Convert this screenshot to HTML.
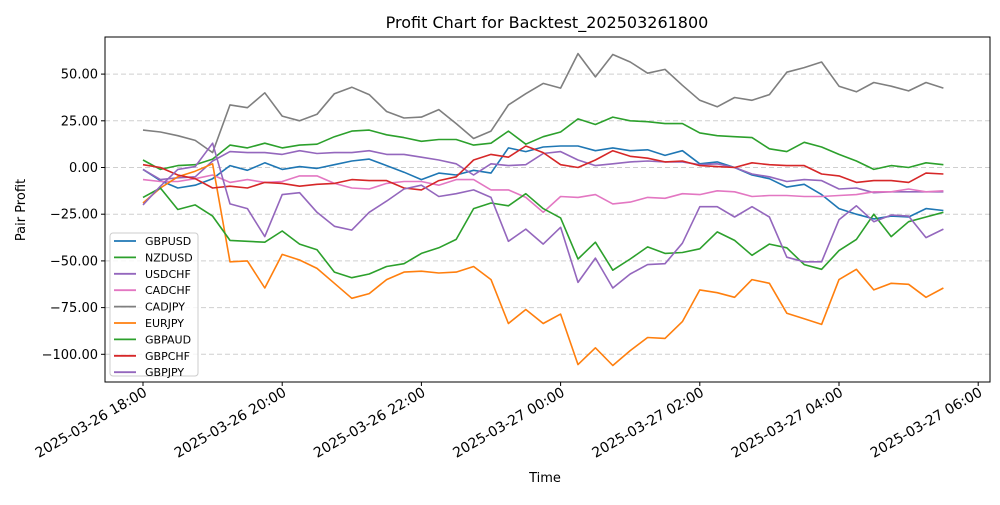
<!DOCTYPE html>
<html><head><meta charset="utf-8"><style>
body{margin:0;background:#fff;font-family:"Liberation Sans","DejaVu Sans",sans-serif}
</style></head><body>
<svg id="chart" width="1000" height="500" xmlns="http://www.w3.org/2000/svg" font-family="'DejaVu Sans','Liberation Sans',sans-serif">
<rect width="1000" height="500" fill="#fff"/>
<text x="547" y="28" font-size="16" text-anchor="middle">Profit Chart for Backtest_202503261800</text>
<text x="545" y="482" font-size="13" text-anchor="middle">Time</text>
<text transform="translate(25,210) rotate(-90)" font-size="13" text-anchor="middle">Pair Profit</text>
<g id="grid"></g><g id="series"></g><g id="axes"></g><g id="legend"></g>
</svg>
<script>
const seriesNames=["GBPUSD","NZDUSD","USDCHF","CADCHF","CADJPY","EURJPY","GBPAUD","GBPCHF","GBPJPY"];
const seriesColors=["#1f77b4","#2ca02c","#9467bd","#e377c2","#7f7f7f","#ff7f0e","#2ca02c","#d62728","#9467bd"];
const yTicks=[50,25,0,-25,-50,-75,-100];
const xTickHours=[0,2,4,6,8,10,12];
const xTickLabels=["2025-03-26 18:00","2025-03-26 20:00","2025-03-26 22:00","2025-03-27 00:00","2025-03-27 02:00","2025-03-27 04:00","2025-03-27 06:00"];
const stepMinutes=15;
const GBPUSD=[-1,-7,-11,-9.5,-6,1,-1.5,2.5,-1,0.5,-0.5,1.5,3.5,4.5,1,-2.5,-6.5,-3,-4,-1.5,-3,10.5,8.5,11,11.5,11.5,9,10.5,9,9.5,6.5,9,2,3,0,-4,-6,-10.5,-9,-14.5,-22,-25,-27.5,-26,-26.5,-22,-23];
const NZDUSD=[4,-1,1,1.5,4.5,12,10.5,13,10.5,12,12.5,16.5,19.5,20,17.5,16,14,15,15,12,13,19.5,12.5,16.5,19,26,23,27,25,24.5,23.5,23.5,18.5,17,16.5,16,10,8.5,13.5,11,7,3.5,-1,1,0,2.5,1.5];
const USDCHF=[-1,-6.5,-5.5,-5,3.5,8.5,8,8,7,9,7.5,8,8,9,7,7,5.5,4,2,-4,2,1,1.5,7.5,8.5,4,1,2,3,3.5,3,3,1.5,2,0,-3.5,-5,-7.5,-6.5,-7,-11.5,-11,-13.5,-13,-13,-13,-13];
const CADCHF=[-6.5,-7.5,-7.5,-6,-4,-8,-6.5,-8,-7.5,-4.5,-4.5,-8.5,-11,-11.5,-8.5,-7.5,-7.5,-9.5,-6.5,-6.5,-12,-12,-16,-24,-15.5,-16,-14.5,-19.5,-18.5,-16,-16.5,-14,-14.5,-12.5,-13,-15.5,-15,-15,-15.5,-15.5,-15,-14.5,-13,-13,-11.5,-13,-12.5];
const CADJPY=[20,19,17,14.5,8,33.5,32,40,27.5,25,28.5,39.5,43,39,30,26.5,27,31,23.5,15.5,19.5,33.5,39.5,45,42.5,61,48.5,60.5,56.5,50.5,52.5,44,36,32.5,37.5,36,39,51,53.5,56.5,43.5,40.5,45.5,43.5,41,45.5,42.5];
const EURJPY=[-19,-11,-5,-2,2,-50.5,-50,-64.5,-46.5,-49.5,-54,-62,-70,-67.5,-60,-56,-55.5,-56.5,-56,-53,-60,-83.5,-76,-83.5,-78.5,-105.5,-96.5,-106,-98,-91,-91.5,-82.5,-65.5,-67,-69.5,-60,-62,-78,-81,-84,-60,-54.5,-65.5,-62,-62.5,-69.5,-64.5];
const GBPAUD=[-16,-11,-22.5,-20,-26,-39,-39.5,-40,-34,-41,-44,-56,-59,-57,-53,-51.5,-46,-43,-38.5,-22,-19,-20.5,-14,-22,-27,-49,-40,-55,-49,-42.5,-46,-45.5,-43.5,-34.5,-39,-47,-41,-43,-52,-54.5,-44.5,-38.5,-25,-37,-29,-26.5,-24];
const GBPCHF=[1.5,0,-4,-6,-11,-10,-11,-8,-8.5,-10,-9,-8.5,-6.5,-7,-7,-11,-12,-7,-5,4,7,5.5,11.5,8,1.5,0,4,9,6,5,3,3.5,1,0.5,0,2.5,1.5,1,1,-3.5,-4.5,-8,-7,-7,-8,-3,-3.5];
const GBPJPY=[-20,-10,-1,0.5,13,-19.5,-22,-37,-14.5,-13.5,-24,-31.5,-33.5,-24,-18,-11.5,-9.5,-15.5,-14,-12,-16,-39.5,-33,-41,-32,-61.5,-48.5,-64.5,-57,-52,-51.5,-40.5,-21,-21,-26.5,-21,-26.5,-48,-50.5,-50.5,-28,-20.5,-29,-25.5,-26,-37.5,-33];
const seriesData=[GBPUSD,NZDUSD,USDCHF,CADCHF,CADJPY,EURJPY,GBPAUD,GBPCHF,GBPJPY];

const NS="http://www.w3.org/2000/svg";
const L=105,R=990,T=37,B=382;
function xScale(minutes){return 143+minutes*(69.6/60);}
function yScale(v){return 167.5-v*1.868;}
function mk(tag,attrs,parent){const e=document.createElementNS(NS,tag);for(const k in attrs)e.setAttribute(k,attrs[k]);parent.appendChild(e);return e;}
const grid=document.getElementById('grid'),axes=document.getElementById('axes'),ser=document.getElementById('series'),leg=document.getElementById('legend');
yTicks.forEach(t=>{const y=yScale(t);
 const g=mk('line',{x1:L,x2:R,y1:y,y2:y,stroke:'#cfcfcf','stroke-dasharray':'5,3','stroke-width':1},grid);
 
 
 const tk=mk('line',{x1:L-4,x2:L,y1:y,y2:y,stroke:'#000'},axes);
 
 
 const tx=mk('text',{x:L-7,y:y+4.5,'font-size':13,'text-anchor':'end'},axes);
 
 
 tx.textContent=t.toFixed(2).replace('-','\u2212');
});
xTickHours.forEach((h,i)=>{const x=xScale(h*60);
 const tk=mk('line',{x1:x,x2:x,y1:B,y2:B+4,stroke:'#000'},axes);
 
 
 const tx=mk('text',{transform:`translate(${x+5},${B+13}) rotate(-30)`,'font-size':14,'text-anchor':'end'},axes);
 
 
 tx.textContent=xTickLabels[i];
});
seriesData.forEach((d,si)=>{
 const pts=d.map((v,i)=>xScale(i*stepMinutes).toFixed(1)+','+yScale(v).toFixed(1)).join(' ');
 const p=mk('polyline',{points:pts,fill:'none',stroke:seriesColors[si],'stroke-width':1.6,'stroke-linejoin':'round'},ser);
 
 
});
const frame=mk('rect',{x:L,y:T,width:R-L,height:B-T,fill:'none',stroke:'#000','stroke-width':1},axes);


const lb=mk('rect',{x:110,y:233,width:88,height:143,rx:3,fill:'#fff','fill-opacity':0.8,stroke:'#ccc'},leg);


seriesNames.forEach((n,i)=>{const y=241+i*16.4;
 const g=mk('g',{},leg);
 
 
 mk('line',{x1:114,x2:136,y1:y,y2:y,stroke:seriesColors[i],'stroke-width':1.8},g);
 const t=mk('text',{x:145,y:y+4,'font-size':11},g);
 t.textContent=n;
});
</script>
</body></html>
